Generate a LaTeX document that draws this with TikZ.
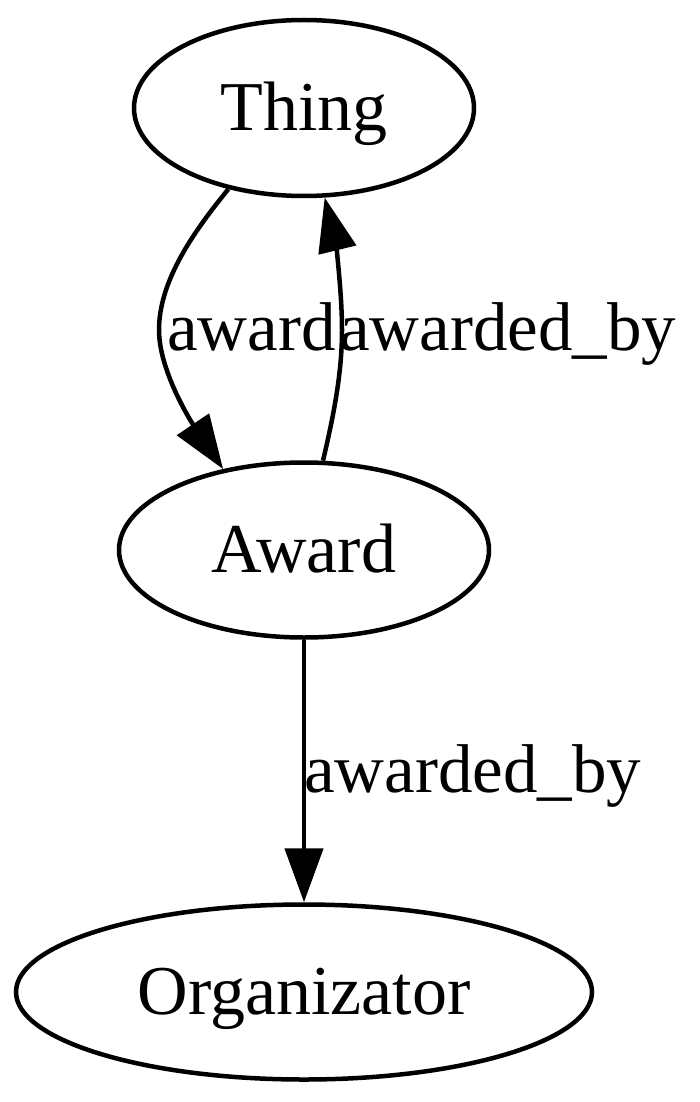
\documentclass[tikz,border=0pt]{standalone}
\usepackage{fontspec}
\setmainfont{Liberation Serif}
\usetikzlibrary{arrows.meta,shapes.geometric}
\tikzset{
  nd/.style={draw, ellipse, line width=4.5pt, inner sep=0pt, text height=51pt, text depth=6pt,
    font=\fontsize{70}{82}\selectfont},
  lbl/.style={inner sep=0pt, anchor=base west, font=\fontsize{69}{82}\selectfont},
  edge/.style={line width=4.5pt, -{Triangle[length=54pt,width=38pt]}}
}
\begin{document}
\begin{tikzpicture}[x=1pt,y=-1pt]
\useasboundingbox (0,0) rectangle (700,1102);
\node[nd, minimum width=340pt, minimum height=176pt] (T) at (304,108) {Thing};
\node[nd, minimum width=370pt, minimum height=175pt] (A) at (304,550) {Award};
\node[nd, minimum width=576pt, minimum height=175pt] (O) at (304,992) {Organizator};
\draw[edge] (T.227) .. controls (195,230) and (159,280) .. (159,330)
  .. controls (159,370) and (190,420) .. (A.135);
\draw[edge] (A.78) .. controls (335,410) and (342,370) .. (342,330)
  .. controls (342,290) and (335,240) .. (T.283);
\draw[edge] (A.south) -- (O.north);
\node[lbl] (l1) at (167,350) {award};
\node[lbl] (l2) at (339,350) {awarded\_by};
\node[lbl] (l3) at (304,792) {awarded\_by};
\end{tikzpicture}
\end{document}
